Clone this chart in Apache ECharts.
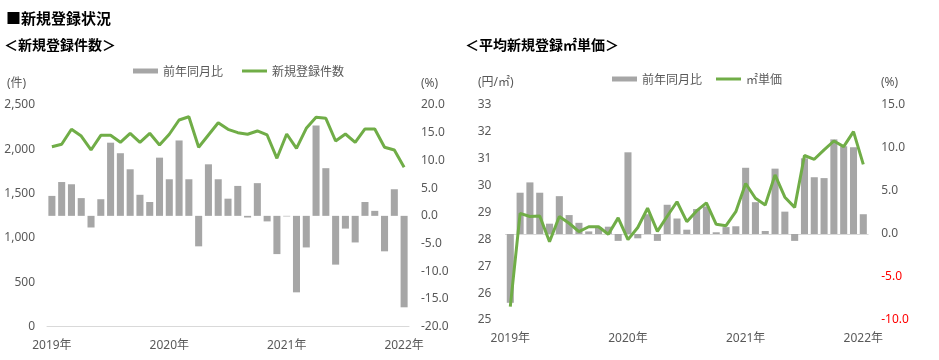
<!DOCTYPE html>
<html><head><meta charset="utf-8">
<script src="https://cdn.jsdelivr.net/npm/echarts@6/dist/echarts.min.js"></script>
<style>html,body{margin:0;padding:0;background:#fff}#c{width:939px;height:360px}</style>
</head><body><div id="c"></div>
<script>
const categories = ['2019/1','2019/2','2019/3','2019/4','2019/5','2019/6','2019/7','2019/8','2019/9','2019/10','2019/11','2019/12',
'2020/1','2020/2','2020/3','2020/4','2020/5','2020/6','2020/7','2020/8','2020/9','2020/10','2020/11','2020/12',
'2021/1','2021/2','2021/3','2021/4','2021/5','2021/6','2021/7','2021/8','2021/9','2021/10','2021/11','2021/12','2022/1'];
const yearLabels = ['2019年','2020年','2021年','2022年'];
const countYoY = [3.6, 6.1, 5.7, 3.2, -2.1, 3.0, 13.2, 11.3, 8.4, 3.8, 2.5, 10.5, 6.6, 13.6, 6.6, -5.5, 9.3, 6.6, 3.1, 5.4, -0.3, 5.9, -1.0, -6.9, -0.1, -13.8, -5.7, 16.3, 8.6, -8.8, -2.3, -4.8, 2.5, 0.9, -6.4, 4.8, -16.5];
const countVal = [2030, 2057, 2226, 2150, 1993, 2158, 2158, 2079, 2181, 2079, 2181, 2049, 2170, 2331, 2368, 2023, 2162, 2300, 2226, 2188, 2170, 2207, 2162, 1899, 2173, 2011, 2237, 2361, 2350, 2094, 2173, 2079, 2230, 2230, 2023, 1993, 1797];
const priceYoY = [-8.0, 4.8, 6.0, 4.8, 1.2, 4.4, 2.2, 1.3, 0.3, 0.8, 0.85, -0.8, 9.5, -0.5, 2.3, -0.8, 3.4, 1.8, 0.5, 2.9, 3.2, 0.2, 0.8, 0.9, 7.7, 3.7, 0.35, 7.6, 2.6, -0.8, 8.8, 6.6, 6.5, 11.0, 10.2, 10.1, 2.3];
const priceVal = [25.50, 28.97, 28.85, 28.87, 27.91, 28.85, 28.60, 28.29, 28.47, 28.47, 28.19, 28.80, 27.99, 28.44, 29.16, 28.30, 28.86, 29.40, 28.66, 29.06, 29.36, 28.56, 28.51, 29.03, 30.08, 29.53, 29.28, 30.40, 29.57, 29.19, 31.12, 30.98, 31.33, 31.66, 31.45, 32.01, 30.79];

const FONT = '"Noto Sans", "Noto Sans CJK JP", sans-serif';
const JFONT = '"Noto Sans CJK JP", sans-serif';
const TXT = '#595959';
const GRAY = '#A6A6A6';
const GREEN = '#70AD47';
const LINE_ICON = 'path://M0,0H25V3H0Z';

const chart = echarts.init(document.getElementById('c'));

function xAxisCfg(gi, margin) {
  return {
    type: 'category', gridIndex: gi, data: categories, boundaryGap: true,
    axisLine: { show: true, lineStyle: { color: '#D9D9D9', width: 1 } },
    axisTick: { show: false },
    axisLabel: { interval: 11, margin: margin, color: TXT, fontSize: 12, fontFamily: FONT,
      formatter: (v, i) => yearLabels[Math.round(i / 12)] }
  };
}
function yAxisCfg(gi, pos, min, max, interval, margin, fmt, rich) {
  return {
    type: 'value', gridIndex: gi, position: pos, min: min, max: max, interval: interval,
    axisLine: { show: false }, axisTick: { show: false }, splitLine: { show: false },
    axisLabel: { margin: margin, color: TXT, fontSize: 12, fontFamily: FONT, formatter: fmt, rich: rich }
  };
}

const option = {
  animation: false,
  textStyle: { fontFamily: FONT },
  grid: [
    { left: 47, right: 939 - 409, top: 105, bottom: 360 - 326.7 },
    { left: 505.4, right: 939 - 868.2, top: 105, bottom: 40 }
  ],
  legend: [
    { left: 128, top: 60, itemWidth: 25, itemHeight: 5, itemGap: 19,
      textStyle: { color: TXT, fontSize: 12, fontFamily: JFONT },
      data: [{ name: '前年同月比', icon: 'rect' }, { name: '新規登録件数', icon: LINE_ICON, itemStyle: { color: GREEN } }] },
    { left: 607, top: 68, itemWidth: 25, itemHeight: 5, itemGap: 14,
      textStyle: { color: TXT, fontSize: 12, fontFamily: JFONT },
      data: [{ name: '前年同月比', icon: 'rect' }, { name: '㎡単価', icon: LINE_ICON, itemStyle: { color: GREEN } }] }
  ],
  xAxis: [xAxisCfg(0, 13), xAxisCfg(1, 13)],
  yAxis: [
    yAxisCfg(0, 'left', 0, 2500, 500, 12, v => v.toLocaleString('en-US')),
    yAxisCfg(0, 'right', -20, 20, 5, 12, v => v.toFixed(1)),
    yAxisCfg(1, 'left', 25, 33, 1, 14, v => String(v)),
    yAxisCfg(1, 'right', -10, 15, 5, 13, v => v < 0 ? '{r|' + v.toFixed(1) + '}' : v.toFixed(1),
      { r: { color: '#FF0000', fontSize: 12, fontFamily: FONT } })
  ],
  series: [
    { name: '前年同月比', type: 'bar', xAxisIndex: 0, yAxisIndex: 1, data: countYoY,
      barCategoryGap: '28%', itemStyle: { color: GRAY }, z: 2 },
    { name: '新規登録件数', type: 'line', xAxisIndex: 0, yAxisIndex: 0, data: countVal,
      symbol: 'none', lineStyle: { color: GREEN, width: 3 }, itemStyle: { color: GREEN }, z: 3 },
    { name: '前年同月比', type: 'bar', xAxisIndex: 1, yAxisIndex: 3, data: priceYoY,
      barCategoryGap: '28%', itemStyle: { color: GRAY }, z: 2 },
    { name: '㎡単価', type: 'line', xAxisIndex: 1, yAxisIndex: 2, data: priceVal,
      symbol: 'none', lineStyle: { color: GREEN, width: 3 }, itemStyle: { color: GREEN }, z: 3 }
  ],
  graphic: [
    { type: 'text', left: 6, top: 11, style: { text: '■新規登録状況', fill: '#000', font: 'bold 15px ' + JFONT } },
    { type: 'text', left: 4, top: 38, style: { text: '＜新規登録件数＞', fill: '#000', font: 'bold 14px ' + JFONT } },
    { type: 'text', left: 465, top: 38, style: { text: '＜平均新規登録㎡単価＞', fill: '#000', font: 'bold 14px ' + JFONT } },
    { type: 'text', left: 7, top: 78, style: { text: '(件)', fill: TXT, font: '12px ' + FONT } },
    { type: 'text', left: 421, top: 78, style: { text: '(%)', fill: TXT, font: '12px ' + FONT } },
    { type: 'text', left: 478, top: 77, style: { text: '(円/㎡)', fill: TXT, font: '12px ' + FONT } },
    { type: 'text', left: 881, top: 77, style: { text: '(%)', fill: TXT, font: '12px ' + FONT } }
  ]
};
chart.setOption(option);
</script></body></html>
